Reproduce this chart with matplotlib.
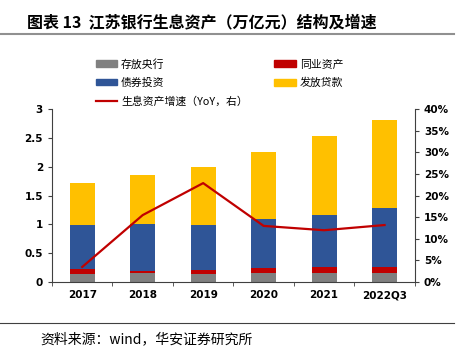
import matplotlib.pyplot as plt
from matplotlib.lines import Line2D
import numpy as np

plt.rcParams['font.family'] = ['Noto Sans CJK SC', 'DejaVu Sans']

# ---- data (万亿元 / %) ----
years = ["2017", "2018", "2019", "2020", "2021", "2022Q3"]
central_bank = [0.14, 0.155, 0.14, 0.15, 0.15, 0.15]      # 存放央行
interbank = [0.09, 0.045, 0.07, 0.09, 0.105, 0.115]       # 同业资产
bonds = [0.765, 0.80, 0.78, 0.86, 0.915, 1.015]           # 债券投资
loans = [0.725, 0.86, 1.01, 1.16, 1.36, 1.53]             # 发放贷款
growth = [3.5, 15.5, 22.9, 13.0, 12.0, 13.2]              # 生息资产增速 YoY %

GRAY = "#808080"
RED = "#C00000"
BLUE = "#2F5597"
YELLOW = "#FFC000"

fig = plt.figure(figsize=(4.64, 3.5), dpi=100)
ax = fig.add_axes([0.112, 0.194, 0.782, 0.494])

x = np.arange(len(years))
w = 0.41
b1 = np.array(central_bank)
b2 = b1 + np.array(interbank)
b3 = b2 + np.array(bonds)
ax.bar(x, central_bank, w, color=GRAY, zorder=2)
ax.bar(x, interbank, w, bottom=b1, color=RED, zorder=2)
ax.bar(x, bonds, w, bottom=b2, color=BLUE, zorder=2)
ax.bar(x, loans, w, bottom=b3, color=YELLOW, zorder=2)

ax.set_xlim(-0.5, len(years) - 0.5)
ax.set_ylim(0, 3)
ax.set_yticks([0, 0.5, 1, 1.5, 2, 2.5, 3])
ax.set_yticklabels(["0", "0.5", "1", "1.5", "2", "2.5", "3"])
ax.set_xticks(x)
ax.set_xticklabels(years)
ax.set_xticks(np.arange(-0.5, len(years), 1), minor=True)
ax.tick_params(axis='x', which='major', length=0, pad=6)
ax.tick_params(axis='x', which='minor', length=3, direction='out', color="#404040")
ax.tick_params(axis='y', length=3, direction='out', color="#404040")
for lab in ax.get_xticklabels() + ax.get_yticklabels():
    lab.set_fontsize(7.5)
    lab.set_fontweight('bold')
    lab.set_family(['DejaVu Sans'])
ax.spines['top'].set_visible(False)
ax.spines['right'].set_visible(False)
ax.spines['left'].set_color("#404040")
ax.spines['bottom'].set_color("#404040")

ax2 = ax.twinx()
ax2.plot(x, growth, color=RED, lw=1.6, zorder=5)
ax2.set_ylim(0, 40)
ax2.set_yticks(range(0, 41, 5))
ax2.set_yticklabels([f"{v}%" for v in range(0, 41, 5)])
ax2.tick_params(axis='y', length=3, direction='out', color="#404040")
for lab in ax2.get_yticklabels():
    lab.set_fontsize(7.5)
    lab.set_fontweight('bold')
    lab.set_family(['DejaVu Sans'])
ax2.spines['top'].set_visible(False)
ax2.spines['left'].set_visible(False)
ax2.spines['bottom'].set_visible(False)
ax2.spines['right'].set_color("#404040")

# legend: column-wise fill -> gray, blue, line | red, yellow
handles = [
    plt.Rectangle((0, 0), 1, 1, color=GRAY),
    plt.Rectangle((0, 0), 1, 1, color=BLUE),
    Line2D([0], [0], color=RED, lw=1.6),
    plt.Rectangle((0, 0), 1, 1, color=RED),
    plt.Rectangle((0, 0), 1, 1, color=YELLOW),
]
labels = ["存放央行", "债券投资", "生息资产增速（YoY，右）", "同业资产", "发放贷款"]
fig.legend(handles, labels, ncol=2, loc='upper left',
           bbox_to_anchor=(0.185, 0.86), frameon=False,
           fontsize=7.8, handlelength=2.0, handleheight=0.55,
           handletextpad=0.35, columnspacing=2.45, labelspacing=0.75)

# title, rules and source
fig.text(0.058, 0.937, "图表 13  江苏银行生息资产（万亿元）结构及增速",
         fontsize=11.5, fontweight='bold', va='center', ha='left')
fig.add_artist(Line2D([0, 0.978], [0.903, 0.903], color="#909090", lw=1.5))
fig.add_artist(Line2D([0, 0.978], [0.077, 0.077], color="#404040", lw=0.8))
fig.text(0.086, 0.031, "资料来源：wind，华安证券研究所",
         fontsize=10, va='center', ha='left')

fig.savefig("out.png", dpi=100)
